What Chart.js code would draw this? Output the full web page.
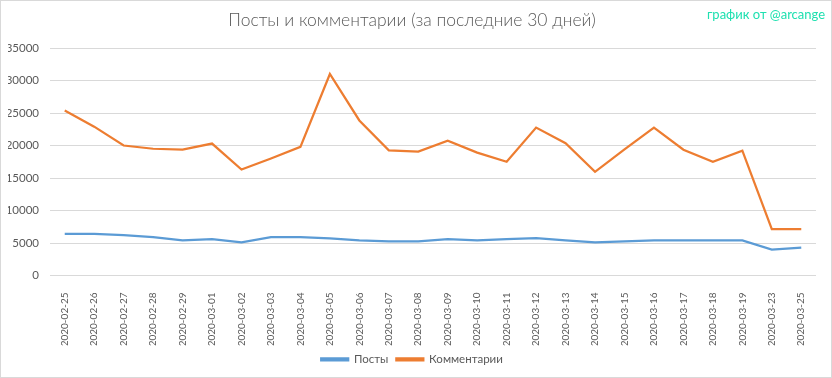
<!DOCTYPE html>
<html>
<head>
<meta charset="utf-8">
<script src="https://cdn.jsdelivr.net/npm/chart.js@4.4.0/dist/chart.umd.min.js"></script>
<style>
  html, body { margin: 0; padding: 0; background: #fff; }
  #wrap { position: relative; width: 832px; height: 378px; }
  #frame { position: absolute; left: 0; top: 0; width: 830px; height: 376px; border: 1px solid #d9d9d9; pointer-events: none; }
  #credit { position: absolute; left: 707px; top: 6px; font: 13px Lato, sans-serif; color: #1fe0b0; }
</style>
</head>
<body>
<div id="wrap">
  <canvas id="chart" width="832" height="378"></canvas>
  <div id="frame"></div>
  <div id="credit">график от @arcange</div>
</div>
<script>
const dates = ['2020-02-25', '2020-02-26', '2020-02-27', '2020-02-28', '2020-02-29',
  '2020-03-01', '2020-03-02', '2020-03-03', '2020-03-04', '2020-03-05', '2020-03-06',
  '2020-03-07', '2020-03-08', '2020-03-09', '2020-03-10', '2020-03-11', '2020-03-12',
  '2020-03-13', '2020-03-14', '2020-03-15', '2020-03-16', '2020-03-17', '2020-03-18',
  '2020-03-19', '2020-03-23', '2020-03-25'];
const posts = [6400, 6400, 6200, 5900, 5400, 5600, 5100, 5900, 5900, 5700, 5400,
  5250, 5250, 5600, 5400, 5600, 5750, 5400, 5100, 5250, 5400, 5400, 5400,
  5400, 4000, 4300];
const comments = [25400, 22900, 20000, 19500, 19350, 20300, 16300, 18000, 19800, 31000, 23850,
  19250, 19050, 20750, 18900, 17500, 22750, 20350, 15950, 19400, 22750, 19350, 17500,
  19200, 7150, 7150];
const yTicks = [0, 5000, 10000, 15000, 20000, 25000, 30000, 35000];

const gray = '#595959';
const font = 'Lato, "Open Sans", sans-serif';

new Chart(document.getElementById('chart'), {
  type: 'line',
  data: {
    labels: dates,
    datasets: [
      {
        label: 'Посты',
        data: posts,
        borderColor: '#5b9bd5',
        backgroundColor: '#5b9bd5',
        borderWidth: 2.25,
        pointRadius: 0,
        tension: 0
      },
      {
        label: 'Комментарии',
        data: comments,
        borderColor: '#ed7d31',
        backgroundColor: '#ed7d31',
        borderWidth: 2.25,
        pointRadius: 0,
        tension: 0
      }
    ]
  },
  options: {
    responsive: false,
    animation: false,
    layout: { padding: { left: 8, right: 16, top: 10, bottom: 3 } },
    plugins: {
      title: {
        display: true,
        text: 'Посты и комментарии (за последние 30 дней)',
        color: gray,
        font: { family: font, size: 17.5, weight: 300 },
        padding: { top: 0, bottom: 17 }
      },
      legend: {
        position: 'bottom',
        labels: {
          color: gray,
          font: { family: font, size: 11.5 },
          boxWidth: 27,
          boxHeight: 2,
          padding: 8
        }
      },
      tooltip: { enabled: false }
    },
    scales: {
      x: {
        offset: true,
        afterFit: function (scale) { scale.height = 70; },
        grid: { display: false },
        border: { display: false },
        ticks: {
          color: gray,
          font: { family: font, size: 10 },
          minRotation: 90,
          maxRotation: 90,
          autoSkip: false,
          padding: 9
        }
      },
      y: {
        min: 0,
        max: 35000,
        afterFit: function (scale) { scale.width = 42; },
        afterBuildTicks: function (scale) {
          scale.ticks = yTicks.map(function (v) { return { value: v }; });
        },
        grid: { color: '#d9d9d9', drawTicks: false },
        border: { display: false },
        ticks: {
          color: gray,
          font: { family: font, size: 11.5 },
          padding: 11,
          callback: function (v) { return String(v); }
        }
      }
    }
  }
});
</script>
</body>
</html>
